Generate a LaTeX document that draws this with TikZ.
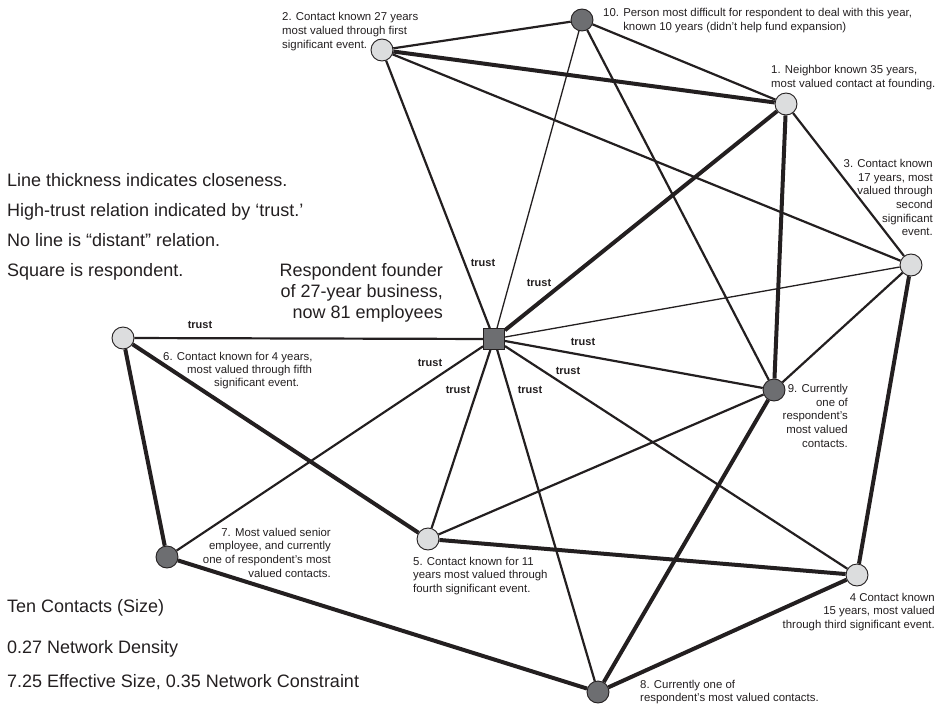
\documentclass[tikz,border=0pt]{standalone}
\usepackage{fontspec}
\setmainfont{Liberation Sans}
\usetikzlibrary{backgrounds}
\definecolor{inkc}{HTML}{231F20}
\definecolor{lightg}{HTML}{DCDDDE}
\definecolor{darkg}{HTML}{6D6E71}
\begin{document}
\begin{tikzpicture}[x=1pt,y=-1pt,
  lightn/.style={circle, draw=inkc, fill=lightg, line width=0.9pt, minimum size=22pt, inner sep=0pt},
  darkn/.style={circle, draw=inkc, fill=darkg, line width=0.9pt, minimum size=22pt, inner sep=0pt},
  resp/.style={rectangle, draw=inkc, fill=darkg, line width=0.9pt, minimum size=21pt, inner sep=0pt},
  tieS/.style={draw=inkc, line width=1.3pt},
  tieM/.style={draw=inkc, line width=2.2pt},
  tieL/.style={draw=inkc, line width=4pt},
  lab/.style={font=\fontsize{11.4}{13.7}\selectfont, text=inkc, inner sep=0pt},
  trustlab/.style={font=\fontsize{11}{13}\selectfont\bfseries, text=inkc, inner sep=0pt},
  big/.style={font=\fontsize{18}{21.3}\selectfont, text=inkc, inner sep=0pt}
]
\useasboundingbox (0,0) rectangle (940,704);

% nodes
\node[lightn] (n1) at (786,104) {};
\node[lightn] (n2) at (382,50) {};
\node[lightn] (n3) at (911,265) {};
\node[lightn] (n4) at (857,575) {};
\node[lightn] (n5) at (428,539) {};
\node[lightn] (n6) at (123,338) {};
\node[darkn] (n7) at (167,557) {};
\node[darkn] (n8) at (598,692) {};
\node[darkn] (n9) at (774,390) {};
\node[darkn] (n10) at (582,20) {};
\node[resp] (r) at (494,339) {};

% ties
\begin{scope}[on background layer]
\draw[tieM] (r) -- (n6);
\draw[tieM] (r) -- (n2);
\draw[tieS] (r) -- (n10);
\draw[tieL] (r) -- (n1);
\draw[tieS] (r) -- (n3);
\draw[tieM] (r) -- (n9);
\draw[tieM] (r) -- (n4);
\draw[tieM] (r) -- (n8);
\draw[tieM] (r) -- (n5);
\draw[tieM] (r) -- (n7);
\draw[tieM] (n2) -- (n10);
\draw[tieL] (n2) -- (n1);
\draw[tieM] (n2) -- (n3);
\draw[tieM] (n10) -- (n1);
\draw[tieM] (n10) -- (n9);
\draw[tieL] (n1) -- (n9);
\draw[tieM] (n1) -- (n3);
\draw[tieM] (n3) -- (n9);
\draw[tieL] (n3) -- (n4);
\draw[tieM] (n9) -- (n5);
\draw[tieL] (n9) -- (n8);
\draw[tieL] (n4) -- (n5);
\draw[tieL] (n4) -- (n8);
\draw[tieL] (n8) -- (n7);
\draw[tieL] (n5) -- (n6);
\draw[tieL] (n6) -- (n7);
\end{scope}

% trust labels
\node[trustlab] (t6) at (200,325) {trust};
\node[trustlab] (t7) at (430,363) {trust};
\node[trustlab] (t5) at (458,390) {trust};
\node[trustlab] (t8) at (530,390) {trust};
\node[trustlab] (t4) at (568,371) {trust};
\node[trustlab] (t9) at (583,342) {trust};
\node[trustlab] (t1) at (539,283) {trust};
\node[trustlab] (t2) at (483,263) {trust};

% contact labels
\node[lab, anchor=north west, align=left] (l2) at (282,12.4) {2. Contact known 27 years\\most valued through first\\significant event.};
\node[lab, anchor=north west, align=left] (l10) at (603,8.4) {10. Person most difficult for respondent to deal with this year,\\\phantom{10. }known 10 years (didn’t help fund expansion)};
\node[lab, anchor=north west, align=left] (l1) at (771,65) {1. Neighbor known 35 years,\\most valued contact at founding.};
\node[lab, anchor=north east, align=right] (l3) at (933,159) {3. Contact known\\17 years, most\\valued through\\second\\significant\\event.};
\node[lab, anchor=north west, align=left, font=\fontsize{11.4}{12.6}\selectfont] (l6) at (163,352.4) {6. Contact known for 4 years,\\\hspace*{24pt}most valued through fifth\\\hspace*{51pt}significant event.};
\node[lab, anchor=north east, align=right] (l7) at (331,527.6) {7. Most valued senior\\employee, and currently\\one of respondent’s most\\valued contacts.};
\node[lab, anchor=north west, align=left] (l5) at (413,556.7) {5. Contact known for 11\\years most valued through\\fourth significant event.};
\node[lab, anchor=north east, align=right] (l9) at (848,384) {9. Currently\\one of\\respondent’s\\most valued\\contacts.};
\node[lab, anchor=north east, align=right] (l4) at (935,592.7) {4 Contact known\\15 years, most valued\\through third significant event.};
\node[lab, anchor=north west, align=left] (l8) at (640,679.7) {8. Currently one of\\respondent’s most valued contacts.};

% title
\node[big, anchor=north east, align=right] (title) at (443,263) {Respondent founder\\of 27-year business,\\now 81 employees};

% legend
\node[big, anchor=base west] (g1) at (7,186) {Line thickness indicates closeness.};
\node[big, anchor=base west] (g2) at (7,216) {High-trust relation indicated by ‘trust.’};
\node[big, anchor=base west] (g3) at (7,246) {No line is “distant” relation.};
\node[big, anchor=base west] (g4) at (7,276) {Square is respondent.};
\node[big, anchor=base west] (s1) at (7,612) {Ten Contacts (Size)};
\node[big, anchor=base west] (s2) at (7,653) {0.27 Network Density};
\node[big, anchor=base west] (s3) at (7,687) {7.25 Effective Size, 0.35 Network Constraint};
\end{tikzpicture}
\end{document}
